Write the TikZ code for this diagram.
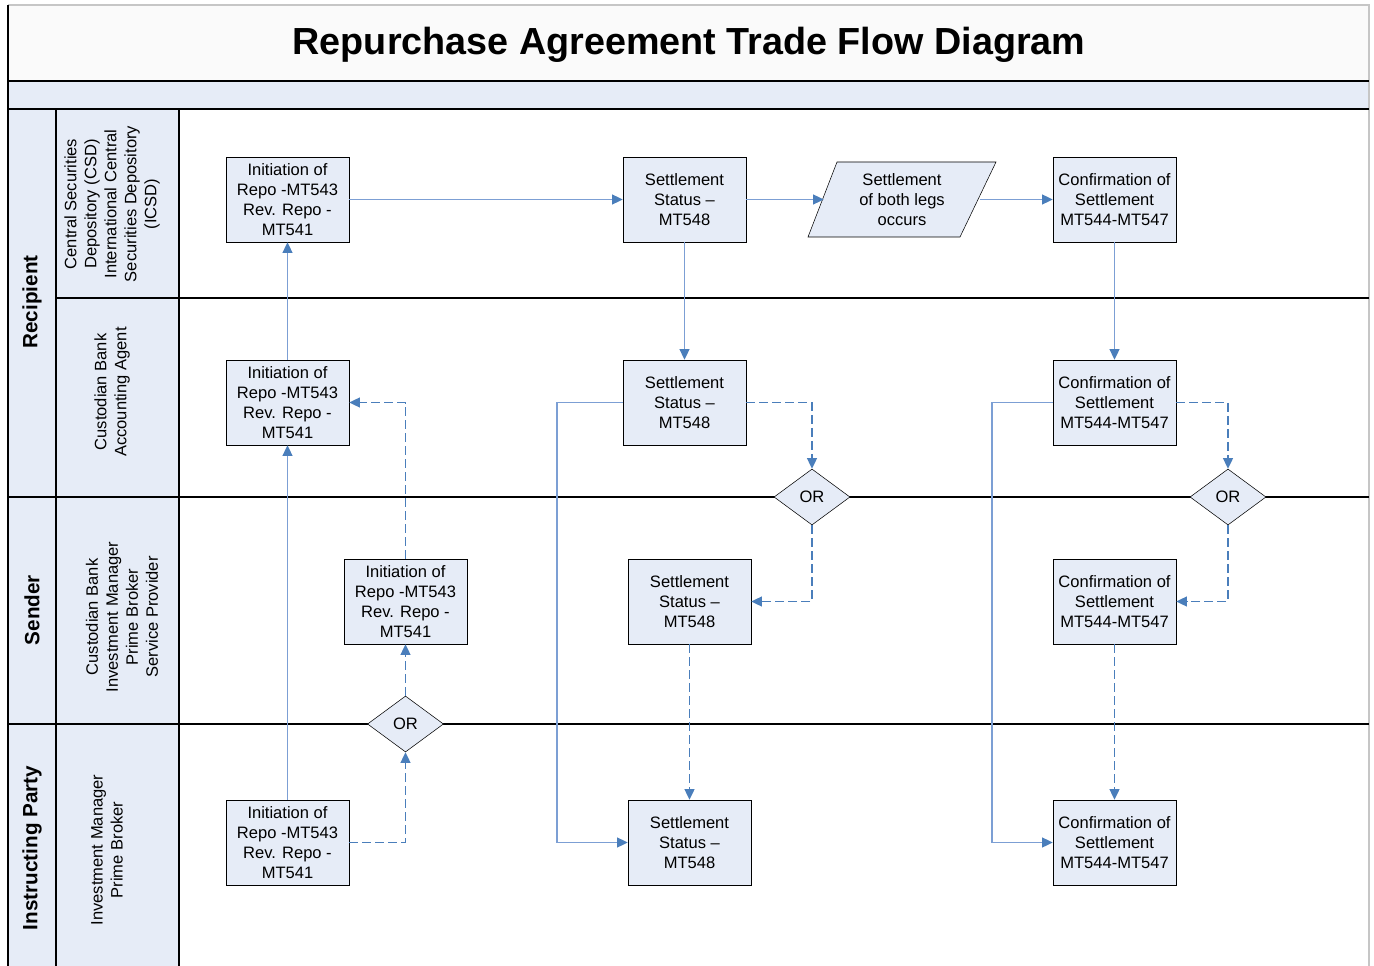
\documentclass[tikz,border=0pt]{standalone}
\usepackage{fontspec}
\setmainfont{Liberation Sans}
\usetikzlibrary{shapes.geometric,arrows.meta}
\definecolor{lanefill}{HTML}{E6ECF7}
\definecolor{titlefill}{HTML}{FAFAFA}
\definecolor{flowblue}{HTML}{4A7EBB}
\definecolor{flowlight}{HTML}{7C9FD4}
\tikzset{
  boxtext/.style={font=\fontsize{12.4}{15}\selectfont},
  msgbox/.style={draw=black, fill=lanefill, rectangle, minimum width=92.25pt, minimum height=63.75pt, inner sep=1pt, align=center, boxtext},
  orgate/.style={draw=black, fill=lanefill, diamond, minimum width=57pt, minimum height=42pt, inner sep=0pt, boxtext},
  bothlegs/.style={rectangle, minimum width=117pt, minimum height=56.25pt, inner sep=1pt, align=center, boxtext},
  lanetitle/.style={rotate=90, font=\fontsize{15.5}{18}\selectfont\bfseries},
  sublane/.style={rotate=90, align=center, boxtext},
  laneline/.style={draw=black, line width=0.9pt},
  flow/.style={draw=flowlight, line width=0.9pt, -{Triangle[length=8pt, width=7.5pt, color=flowblue]}},
  altflow/.style={draw=flowblue, line width=1pt, dash pattern=on 6.75pt off 3pt, -{Triangle[length=8pt, width=7.5pt]}}
}
\begin{document}
\begin{tikzpicture}[x=0.75pt, y=-0.75pt]
\useasboundingbox (0,0) rectangle (1374,966);

% frame and title
\fill[titlefill] (8,5) rectangle (1369,81);
\fill[lanefill] (8,81) rectangle (1369,109);
\fill[lanefill] (8,109) rectangle (179,966);
\draw[gray!45, line width=0.9pt] (8,5) -- (1369,5) -- (1369,966);
\draw[laneline] (8,5) -- (8,966);
\draw[laneline] (8,81) -- (1369,81);
\draw[laneline] (8,109) -- (1369,109);
\node at (689, 45) (title) {\fontsize{28.3}{32}\selectfont\bfseries Repurchase Agreement Trade Flow Diagram};

% lanes
\draw[laneline] (56,109) -- (56,966);
\draw[laneline] (179,109) -- (179,966);
\draw[laneline] (56,298) -- (1369,298);
\draw[laneline] (8,497) -- (1369,497);
\draw[laneline] (8,724) -- (1369,724);

\node[lanetitle] at (32, 302) (recipient) {Recipient};
\node[lanetitle] at (32, 610) (sender) {Sender};
\node[lanetitle] at (32, 848) (instructing) {Instructing Party};

\node[sublane] at (112, 204) (csdlane) {Central Securities\\Depository (CSD)\\International Central\\Securities Depository\\(ICSD)};
\node[sublane] at (112, 392) (custlane) {Custodian Bank\\Accounting Agent};
\node[sublane] at (122, 617) (sndlane) {Custodian Bank\\Investment Manager\\Prime Broker\\Service Provider};
\node[sublane] at (107, 850) (inslane) {Investment Manager\\Prime Broker};

% recipient, csd
\node[msgbox] at (287.5, 199.5) (csdinit) {Initiation of\\Repo -MT543\\Rev. Repo -\\MT541};
\node[msgbox] at (684.5, 199.5) (csdstat) {Settlement\\Status --\\MT548};
\draw[black, fill=lanefill] (808,237) -- (837,162) -- (996,162) -- (960,237) -- cycle;
\node[bothlegs] at (902, 199.5) (csdlegs) {Settlement\\of both legs\\occurs};
\node[msgbox] at (1114.5, 199.5) (csdconf) {Confirmation of\\Settlement\\MT544-MT547};

% recipient, custodian
\node[msgbox] at (287.5, 402.5) (custinit) {Initiation of\\Repo -MT543\\Rev. Repo -\\MT541};
\node[msgbox] at (684.5, 402.5) (custstat) {Settlement\\Status --\\MT548};
\node[msgbox] at (1114.5, 402.5) (custconf) {Confirmation of\\Settlement\\MT544-MT547};

% or gates
\node[orgate] at (812, 497) (orstat) {OR};
\node[orgate] at (1228, 497) (orconf) {OR};
\node[orgate] at (405.5, 724) (orinit) {OR};

% sender
\node[msgbox] at (405.5, 601.5) (sndinit) {Initiation of\\Repo -MT543\\Rev. Repo -\\MT541};
\node[msgbox] at (689.5, 601.5) (sndstat) {Settlement\\Status --\\MT548};
\node[msgbox] at (1114.5, 601.5) (sndconf) {Confirmation of\\Settlement\\MT544-MT547};

% instructing party
\node[msgbox] at (287.5, 842.5) (insinit) {Initiation of\\Repo -MT543\\Rev. Repo -\\MT541};
\node[msgbox] at (689.5, 842.5) (insstat) {Settlement\\Status --\\MT548};
\node[msgbox] at (1114.5, 842.5) (insconf) {Confirmation of\\Settlement\\MT544-MT547};

% turning points
\coordinate (statturn) at (557, 402.5);
\coordinate (confturn) at (992, 402.5);

% main flow
\draw[flow] (csdinit) -- (csdstat);
\draw[flow] (csdstat) -- (csdlegs);
\draw[flow] (csdlegs) -- (csdconf);
\draw[flow] (csdstat) -- (custstat);
\draw[flow] (csdconf) -- (custconf);
\draw[flow] (custinit) -- (csdinit);
\draw[flow] (insinit) -- (custinit);
\draw[flow] (custstat.west) -- (statturn) |- (insstat.west);
\draw[flow] (custconf.west) -- (confturn) |- (insconf.west);

% alternative flow
\draw[altflow] (insinit.east) -| (orinit.south);
\draw[altflow] (orinit) -- (sndinit);
\draw[altflow] (sndinit.north) |- (custinit.east);
\draw[altflow] (custstat.east) -| (orstat.north);
\draw[altflow] (orstat.south) |- (sndstat.east);
\draw[altflow] (sndstat) -- (insstat);
\draw[altflow] (custconf.east) -| (orconf.north);
\draw[altflow] (orconf.south) |- (sndconf.east);
\draw[altflow] (sndconf) -- (insconf);

\end{tikzpicture}
\end{document}
